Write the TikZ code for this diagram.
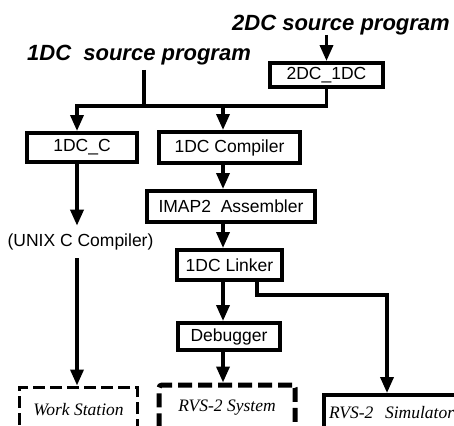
\documentclass[tikz,border=0pt]{standalone}
\usepackage{fontspec}
\setmainfont{Liberation Serif}
\setsansfont{Liberation Sans}
\usetikzlibrary{arrows.meta}
\tikzset{>={Triangle[length=16bp,width=13bp]}}
\tikzset{
  box/.style={draw, line width=4bp, inner sep=0pt, minimum height=29bp,
    font=\sffamily\fontsize{17.5bp}{20bp}\selectfont},
  srclabel/.style={inner sep=0pt, font=\sffamily\bfseries\itshape\fontsize{22bp}{26bp}\selectfont},
  target/.style={draw, inner sep=0pt, font=\itshape\fontsize{17.5bp}{20bp}\selectfont},
  wire/.style={line width=3.5bp}
}

\begin{document}
\begin{tikzpicture}[x=1bp,y=-1bp]
\useasboundingbox (0,0) rectangle (454,425);
\coordinate (lcol) at (77,0);
\coordinate (mcol) at (223,0);
\coordinate (bus) at (0,106);
\coordinate (bend) at (387,295);

\node[srclabel, anchor=base] (src2) at (341,30) {2DC source program};
\node[srclabel, anchor=base] (src1) at (139,60) {1DC\ \ source program};

\node[box, minimum width=113bp, minimum height=24bp] (cvt) at (326.5,75) {2DC\_1DC};
\node[box, minimum width=110bp] (c1) at (82,147.5) {1DC\_C};
\node[box, minimum width=141bp, minimum height=31bp] (comp) at (229.5,147.5) {1DC Compiler};
\node[box, minimum width=168bp, minimum height=31bp] (asm) at (231,206.5) {IMAP2\ \ Assembler};
\node[box, minimum width=105bp, minimum height=30bp] (link) at (229.5,265) {1DC Linker};
\node[box, minimum width=102bp, minimum height=27bp] (dbg) at (229,336.5) {Debugger};
\node[inner xsep=0pt, inner ysep=8bp, font=\sffamily\fontsize{17.5bp}{20bp}\selectfont] (unix) at (80.5,242) {(UNIX C Compiler)};

\node[target, line width=3bp, dash pattern=on 12bp off 5bp, minimum width=117bp, minimum height=46bp] (ws) at (78.5,410) {Work Station};
\node[target, line width=5bp, dash pattern=on 14bp off 6bp, rounded corners=3bp, minimum width=136bp, minimum height=46bp] (sys) at (227,408) {RVS-2 System};
\node[target, line width=4bp, anchor=north west, text width=140bp, align=left, inner xsep=5bp, minimum height=36bp] (sim) at (322,393) {RVS-2\ \ Simulator};

\draw[wire,->] (src2.south -| cvt) -- (cvt.north);
\draw[wire] ([xshift=5bp,yshift=-5bp]src1.south) -- ([xshift=5bp]src1.south |- bus);
\draw[wire,->] (cvt.south) |- (bus -| lcol) -- (c1.north -| lcol);
\draw[wire,->] (bus -| mcol) -- (comp.north -| mcol);
\draw[wire,->] (c1.south -| lcol) -- (unix.north -| lcol);
\draw[wire,->] (unix.south -| lcol) -- (ws.north -| lcol);
\draw[wire,->] (comp.south -| mcol) -- (asm.north -| mcol);
\draw[wire,->] (asm.south -| mcol) -- (link.north -| mcol);
\draw[wire,->] (link.south -| mcol) -- (dbg.north -| mcol);
\draw[wire,->] (dbg.south -| mcol) -- (sys.north -| mcol);
\draw[wire,->] ([xshift=27.5bp]link.south) |- (bend) -- (sim.north -| bend);
\end{tikzpicture}
\end{document}
